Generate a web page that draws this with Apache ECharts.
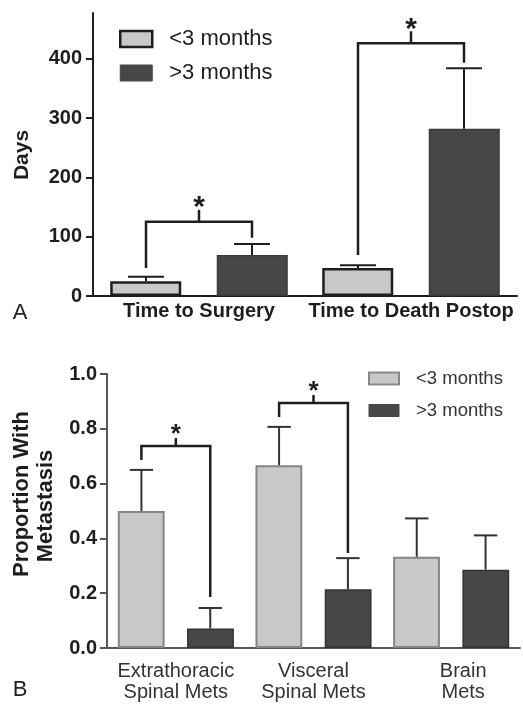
<!DOCTYPE html>
<html>
<head>
<meta charset="utf-8">
<script src="https://cdn.jsdelivr.net/npm/echarts@6/dist/echarts.min.js"></script>
<style>html,body{margin:0;padding:0;background:#fff}#c{width:523px;height:706px}</style>
</head>
<body>
<div id="c"></div>
<script>
// ---- Panel A data ----
const catA = ['Time to Surgery', 'Time to Death Postop'];
const lessA = [25, 47];
const moreA = [69, 282];
const lessAErr = [7.5, 5];
const moreAErr = [18.5, 102];
const yTicksA = [0, 100, 200, 300, 400];
const yMaxA = 477;
const brCatA = [0, 1];
const brLeftA = [47, 69];
const brTopA = [125, 426];
const brRightA = [98, 393];

// ---- Panel B data ----
const catB = ['Extrathoracic\nSpinal Mets', 'Visceral\nSpinal Mets', 'Brain\nMets'];
const lessB = [0.5, 0.667, 0.333];
const moreB = [0.071, 0.214, 0.286];
const lessBErr = [0.15, 0.14, 0.14];
const moreBErr = [0.075, 0.114, 0.125];
const yTicksB = [0, 0.2, 0.4, 0.6, 0.8, 1.0];
const brCatB = [0, 1];
const brLeftB = [0.686, 0.843];
const brTopB = [0.737, 0.894];
const brRightB = [0.186, 0.347];

const seriesNames = ['<3 months', '>3 months'];
const FF = "'Liberation Sans', Arial, Helvetica, sans-serif";
const LIGHT = '#c8c8c8', DARK = '#474747';

function errRender(side, color) {
  return function (params, api) {
    const cat = api.value(0), v = api.value(1), e = api.value(2);
    const band = api.size([1, 0])[0];
    const p0 = api.coord([cat, v]);
    const p1 = api.coord([cat, v + e]);
    const x = p0[0] + side * band * 0.25;
    const cw = band * 0.085;
    const st = { stroke: color, lineWidth: 2 };
    return { type: 'group', children: [
      { type: 'line', shape: { x1: x, y1: p0[1], x2: x, y2: p1[1] }, style: st },
      { type: 'line', shape: { x1: x - cw, y1: p1[1], x2: x + cw, y2: p1[1] }, style: st }
    ]};
  };
}
function bracketRender(tick, starSize, starOff) {
  return function (params, api) {
    const cat = api.value(0);
    const band = api.size([1, 0])[0];
    const pt = api.coord([cat, api.value(2)]);
    const yl = api.coord([cat, api.value(1)])[1];
    const yr = api.coord([cat, api.value(3)])[1];
    const xl = pt[0] - band * 0.25, xr = pt[0] + band * 0.25, yt = pt[1];
    const st = { stroke: '#1e1e1e', lineWidth: 2.5, fill: null };
    return { type: 'group', children: [
      { type: 'polyline', shape: { points: [[xl, yl], [xl, yt], [xr, yt], [xr, yr]] }, style: st },
      { type: 'line', shape: { x1: pt[0], y1: yt, x2: pt[0], y2: yt - tick }, style: st },
      { type: 'text', x: pt[0], y: yt - tick - starOff, style: { text: '*', fontSize: starSize, fontWeight: 'bold', fontFamily: FF, fill: '#1e1e1e', align: 'center', verticalAlign: 'middle' } }
    ]};
  };
}
function zipErr(vals, errs) { return vals.map((v, i) => [i, v, errs[i]]); }
function zipBr(c, l, t, r) { return c.map((ci, i) => [ci, l[i], t[i], r[i]]); }

const chart = echarts.init(document.getElementById('c'), null, { renderer: 'canvas' });
chart.setOption({
  animation: false,
  backgroundColor: '#fff',
  textStyle: { fontFamily: FF },
  grid: [
    { left: 93, top: 13, right: 6, height: 283 },
    { left: 107, top: 374, right: 3, height: 274 }
  ],
  legend: [
    {
      orient: 'vertical', left: 114, top: 23, itemWidth: 32, itemHeight: 16, itemGap: 12,
      icon: 'rect', selectedMode: false,
      textStyle: { fontSize: 22, color: '#1e1e1e', fontFamily: FF, padding: [0, 0, 0, 12] },
      data: [
        { name: seriesNames[0], itemStyle: { color: LIGHT, borderColor: '#1e1e1e', borderWidth: 2.5 } },
        { name: seriesNames[1], itemStyle: { color: DARK, borderColor: DARK, borderWidth: 1 } }
      ]
    },
    {
      orient: 'vertical', left: 363, top: 364, itemWidth: 30, itemHeight: 12, itemGap: 13,
      icon: 'rect', selectedMode: false,
      textStyle: { fontSize: 18.5, color: '#333', fontFamily: FF, padding: [0, 0, 0, 12] },
      data: [
        { name: seriesNames[0], itemStyle: { color: LIGHT, borderColor: '#888', borderWidth: 2 } },
        { name: seriesNames[1], itemStyle: { color: DARK, borderColor: DARK, borderWidth: 1 } }
      ]
    }
  ],
  xAxis: [
    {
      type: 'category', gridIndex: 0, data: catA,
      axisLine: { lineStyle: { color: '#1e1e1e', width: 2 } },
      axisTick: { show: false },
      axisLabel: { interval: 0, hideOverlap: false, fontSize: 20, fontWeight: 'bold', color: '#1e1e1e', margin: 5, fontFamily: FF }
    },
    {
      type: 'category', gridIndex: 1,
      data: catB.map((c, i) => i === 2 ? { value: c, textStyle: { padding: [0, 0, 0, 24] } } : c),
      axisLine: { lineStyle: { color: '#555', width: 2 } },
      axisTick: { show: false },
      axisLabel: { interval: 0, hideOverlap: false, fontSize: 20, color: '#333', margin: 13, lineHeight: 21, fontFamily: FF }
    }
  ],
  yAxis: [
    {
      type: 'value', gridIndex: 0, min: 0, max: yMaxA,
      axisLine: { show: true, lineStyle: { color: '#1e1e1e', width: 2 } },
      axisTick: { show: true, length: 7, customValues: yTicksA, lineStyle: { color: '#1e1e1e', width: 2 } },
      axisLabel: { customValues: yTicksA, fontSize: 20, fontWeight: 'bold', color: '#1e1e1e', margin: 11, fontFamily: FF },
      splitLine: { show: false }
    },
    {
      type: 'value', gridIndex: 1, min: 0, max: 1, interval: 0.2,
      axisLine: { show: true, lineStyle: { color: '#555', width: 2 } },
      axisTick: { show: true, length: 7, lineStyle: { color: '#555', width: 2 } },
      axisLabel: { fontSize: 20, fontWeight: 'bold', color: '#1e1e1e', margin: 10, fontFamily: FF, formatter: v => v.toFixed(1) },
      splitLine: { show: false }
    }
  ],
  graphic: [
    { type: 'text', x: 22, y: 155, rotation: Math.PI / 2, style: { text: 'Days', fontSize: 21, fontWeight: 'bold', fontFamily: FF, fill: '#1e1e1e', align: 'center', verticalAlign: 'middle' } },
    { type: 'text', x: 22, y: 494, rotation: Math.PI / 2, style: { text: 'Proportion With', fontSize: 22, fontWeight: 'bold', fontFamily: FF, fill: '#1e1e1e', align: 'center', verticalAlign: 'middle' } },
    { type: 'text', x: 46, y: 506, rotation: Math.PI / 2, style: { text: 'Metastasis', fontSize: 22, fontWeight: 'bold', fontFamily: FF, fill: '#1e1e1e', align: 'center', verticalAlign: 'middle' } },
    { type: 'text', x: 20, y: 313, style: { text: 'A', fontSize: 22, fontFamily: FF, fill: '#222', align: 'center', verticalAlign: 'middle' } },
    { type: 'text', x: 20, y: 690, style: { text: 'B', fontSize: 22, fontFamily: FF, fill: '#222', align: 'center', verticalAlign: 'middle' } }
  ],
  series: [
    { name: seriesNames[0], type: 'bar', xAxisIndex: 0, yAxisIndex: 0, data: lessA, barWidth: '33.5%', barGap: '50%',
      itemStyle: { color: LIGHT, borderColor: '#1e1e1e', borderWidth: 2.5 } },
    { name: seriesNames[1], type: 'bar', xAxisIndex: 0, yAxisIndex: 0, data: moreA, barWidth: '33.5%', barGap: '50%',
      itemStyle: { color: DARK, borderColor: '#3a3a3a', borderWidth: 1.5 } },
    { name: seriesNames[0], type: 'bar', xAxisIndex: 1, yAxisIndex: 1, data: lessB, barWidth: '34%', barGap: '48%',
      itemStyle: { color: LIGHT, borderColor: '#858585', borderWidth: 2 } },
    { name: seriesNames[1], type: 'bar', xAxisIndex: 1, yAxisIndex: 1, data: moreB, barWidth: '34%', barGap: '48%',
      itemStyle: { color: DARK, borderColor: '#333', borderWidth: 1.5 } },
    { type: 'custom', xAxisIndex: 0, yAxisIndex: 0, data: zipErr(lessA, lessAErr), renderItem: errRender(-1, '#1e1e1e'), z: 5, encode: { x: 0, y: 1 } },
    { type: 'custom', xAxisIndex: 0, yAxisIndex: 0, data: zipErr(moreA, moreAErr), renderItem: errRender(1, '#1e1e1e'), z: 5, encode: { x: 0, y: 1 } },
    { type: 'custom', xAxisIndex: 1, yAxisIndex: 1, data: zipErr(lessB, lessBErr), renderItem: errRender(-1, '#333'), z: 5, encode: { x: 0, y: 1 } },
    { type: 'custom', xAxisIndex: 1, yAxisIndex: 1, data: zipErr(moreB, moreBErr), renderItem: errRender(1, '#333'), z: 5, encode: { x: 0, y: 1 } },
    { type: 'custom', xAxisIndex: 0, yAxisIndex: 0, data: zipBr(brCatA, brLeftA, brTopA, brRightA), renderItem: bracketRender(12, 30, 2), z: 6, encode: { x: 0, y: 2 } },
    { type: 'custom', xAxisIndex: 1, yAxisIndex: 1, data: zipBr(brCatB, brLeftB, brTopB, brRightB), renderItem: bracketRender(8, 26, 3), z: 6, encode: { x: 0, y: 2 } }
  ]
});
</script>
</body>
</html>
